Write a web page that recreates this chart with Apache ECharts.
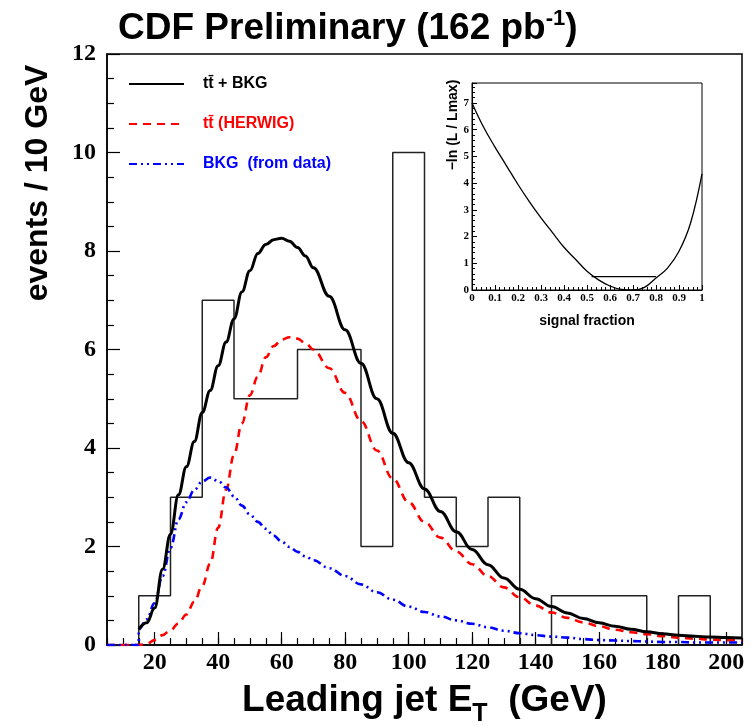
<!DOCTYPE html>
<html>
<head>
<meta charset="utf-8">
<script src="https://cdn.jsdelivr.net/npm/echarts@6/dist/echarts.min.js"></script>
<style>
html,body{margin:0;padding:0;background:#fff;}
#chart{width:750px;height:726px;}
</style>
</head>
<body>
<div id="chart"></div>
<script>
// ---- Data ----
// Histogram (data): bin left edges (GeV) and counts
const binEdges  = [5, 15, 25, 35, 45, 55, 65, 75, 85, 95, 105, 115, 125, 135, 145, 155, 165, 175, 185, 195, 205];
const binCounts = [0, 1, 3, 7, 5, 5, 6, 6, 2, 10, 3, 2, 3, 0, 1, 1, 1, 0, 1, 0, 0];

// Curves sampled in leading jet ET (GeV)
const energyGeV = [15, 17.5, 20, 22.5, 25, 27.5, 30, 32.5, 35, 37.5, 40, 42.5, 45, 47.5, 50, 52.5, 55, 57.5, 60, 62.5, 65, 67.5, 70, 75, 80, 85, 90, 95, 100, 105, 110, 115, 120, 125, 130, 135, 140, 145, 150, 155, 160, 165, 170, 175, 180, 185, 190, 195, 200, 205];
const ttbarPlusBkg = [0.32, 0.45, 0.75, 1.54, 2.25, 3.05, 3.62, 4.13, 4.72, 5.17, 5.67, 6.15, 6.62, 7.17, 7.6, 7.95, 8.13, 8.23, 8.26, 8.2, 8.07, 7.9, 7.66, 7.08, 6.4, 5.72, 5.0, 4.3, 3.7, 3.17, 2.71, 2.3, 1.94, 1.63, 1.36, 1.13, 0.94, 0.78, 0.65, 0.54, 0.45, 0.38, 0.32, 0.27, 0.23, 0.2, 0.18, 0.16, 0.15, 0.14];
const ttbarHerwig  = [0.0, 0.02, 0.1, 0.2, 0.3, 0.44, 0.62, 0.88, 1.2, 1.65, 2.38, 3.15, 3.86, 4.5, 5.07, 5.45, 5.84, 6.07, 6.2, 6.25, 6.22, 6.13, 6.0, 5.62, 5.12, 4.55, 3.95, 3.38, 2.9, 2.5, 2.18, 1.9, 1.64, 1.4, 1.17, 0.97, 0.8, 0.66, 0.55, 0.46, 0.38, 0.31, 0.26, 0.22, 0.18, 0.15, 0.13, 0.11, 0.1, 0.09];
const bkgFromData  = [0.32, 0.52, 0.85, 1.4, 1.97, 2.55, 2.9, 3.15, 3.32, 3.4, 3.33, 3.2, 3.02, 2.83, 2.65, 2.5, 2.36, 2.22, 2.1, 1.99, 1.89, 1.8, 1.72, 1.56, 1.4, 1.23, 1.07, 0.92, 0.78, 0.67, 0.58, 0.5, 0.43, 0.36, 0.29, 0.24, 0.2, 0.17, 0.15, 0.12, 0.1, 0.09, 0.08, 0.07, 0.06, 0.06, 0.05, 0.05, 0.05, 0.05];
const leadInGeV = [5, 15];   // curves sit at zero below the first data bin

// Inset: -ln(L/Lmax) vs signal fraction
const signalFraction = [0, 0.05, 0.1, 0.15, 0.2, 0.25, 0.3, 0.35, 0.4, 0.45, 0.5, 0.55, 0.6, 0.65, 0.7, 0.75, 0.8, 0.85, 0.9, 0.95, 1.0];
const negLogL = [7.0, 6.1, 5.35, 4.65, 3.95, 3.3, 2.7, 2.15, 1.6, 1.15, 0.7, 0.38, 0.15, 0.02, 0.0, 0.1, 0.45, 0.82, 1.45, 2.5, 4.35];
const errorBand = [0.52, 0.80];
const errorLevel = 0.5;

// Tick labels
const xMajorTicks = [20, 40, 60, 80, 100, 120, 140, 160, 180, 200];

// ---- Build series data ----
function pairs(xs, ys) { return xs.map((x, i) => [x, ys[i]]); }
const histData = pairs(binEdges, binCounts);
const blackData = pairs(energyGeV, ttbarPlusBkg);
const redData = leadInGeV.map(x => [x, 0]).concat(pairs(energyGeV, ttbarHerwig));
const blueData = leadInGeV.map(x => [x, 0]).concat(pairs(energyGeV, bkgFromData));
const insetData = pairs(signalFraction, negLogL);
const bandData = errorBand.map(f => [f, errorLevel]);

const SANS = 'Liberation Sans, Arial, Helvetica, sans-serif';
const SERIF = 'Liberation Serif, Times New Roman, serif';

const chart = echarts.init(document.getElementById('chart'), null, {renderer: 'canvas'});

const NAME_TOTAL = 'tt\u0304 + BKG';
const NAME_SIG = 'tt\u0304 (HERWIG)';
const NAME_BKG = 'BKG  (from data)';

chart.setOption({
  backgroundColor: '#fff',
  animation: false,
  title: {
    text: '{a|CDF Preliminary (162 pb}{s|-1}{a|)}',
    left: 113, top: 3,
    textStyle: {
      rich: {
        a: {fontFamily: SANS, fontWeight: 'bold', fontSize: 37, color: '#000', lineHeight: 42},
        s: {fontFamily: SANS, fontWeight: 'bold', fontSize: 22, color: '#000', verticalAlign: 'top', lineHeight: 42}
      }
    }
  },
  legend: {
    orient: 'vertical',
    left: 128, top: 76, padding: 0,
    itemWidth: 55, itemHeight: 14, itemGap: 24,
    selectedMode: false,
    itemStyle: {opacity: 0},
    textStyle: {fontFamily: SANS, fontWeight: 'bold', fontSize: 16, padding: [0, 0, 0, 14]},
    data: [
      {name: NAME_TOTAL, textStyle: {color: '#000'}},
      {name: NAME_SIG, textStyle: {color: '#ff0000'}},
      {name: NAME_BKG, textStyle: {color: '#0000ff'}}
    ]
  },
  grid: [
    {left: 107, right: 8, top: 54, bottom: 81, show: true, borderColor: '#000', borderWidth: 1.5, backgroundColor: 'transparent', containLabel: false, outerBoundsMode: 'none'},
    {left: 472, top: 83, width: 230, height: 207, show: true, borderColor: '#000', borderWidth: 1, backgroundColor: 'transparent', containLabel: false, outerBoundsMode: 'none'}
  ],
  xAxis: [
    {
      type: 'value', gridIndex: 0, min: 5, max: 205, position: 'bottom',
      axisLine: {show: true, lineStyle: {color: '#000', width: 1.5}},
      axisTick: {show: true, inside: true, length: 13, customValues: xMajorTicks, lineStyle: {color: '#000', width: 1.2}},
      axisLabel: {customValues: xMajorTicks, margin: 6, fontFamily: SERIF, fontWeight: 'bold', fontSize: 24, color: '#000'},
      splitLine: {show: false},
      name: '{a|Leading jet E}{s|T}{a|  (GeV)}',
      nameLocation: 'middle', nameGap: 30, nameMoveOverlap: false,
      nameTextStyle: {
        rich: {
          a: {fontFamily: SANS, fontWeight: 'bold', fontSize: 37, color: '#000', lineHeight: 52, verticalAlign: 'middle'},
          s: {fontFamily: SANS, fontWeight: 'bold', fontSize: 25, color: '#000', lineHeight: 52, verticalAlign: 'bottom'}
        }
      }
    },
    {
      type: 'value', gridIndex: 0, min: 5, max: 205, interval: 5, position: 'bottom',
      axisLine: {show: false},
      axisTick: {show: true, inside: true, length: 7, lineStyle: {color: '#000', width: 1.2}},
      axisLabel: {show: false},
      splitLine: {show: false}
    },
    {
      type: 'value', gridIndex: 1, min: 0, max: 1, interval: 0.1,
      axisLine: {show: true, lineStyle: {color: '#000', width: 1}},
      axisTick: {show: true, inside: true, length: 5, lineStyle: {color: '#000'}},
      minorTick: {show: true, splitNumber: 5, length: 3, lineStyle: {color: '#000'}},
      axisLabel: {
        margin: 3, fontFamily: SERIF, fontWeight: 'bold', fontSize: 11, color: '#000',
        formatter: v => (v === 0 ? '0' : (Math.abs(v - 1) < 1e-9 ? '1' : v.toFixed(1)))
      },
      splitLine: {show: false}, minorSplitLine: {show: false},
      name: 'signal fraction', nameLocation: 'middle', nameGap: 24, nameMoveOverlap: false,
      nameTextStyle: {fontFamily: SANS, fontWeight: 'bold', fontSize: 14, color: '#000'}
    }
  ],
  yAxis: [
    {
      type: 'value', gridIndex: 0, min: 0, max: 12, interval: 2,
      axisLine: {show: true, lineStyle: {color: '#000', width: 1.5}},
      axisTick: {show: true, inside: true, length: 13, lineStyle: {color: '#000', width: 1.2}},
      minorTick: {show: true, splitNumber: 4, length: 7, lineStyle: {color: '#000', width: 1.2}},
      axisLabel: {margin: 11, fontFamily: SERIF, fontWeight: 'bold', fontSize: 24, color: '#000'},
      splitLine: {show: false}, minorSplitLine: {show: false}
    },
    {
      type: 'value', gridIndex: 1, min: 0, max: 7.75, interval: 1,
      axisLine: {show: true, lineStyle: {color: '#000', width: 1}},
      axisTick: {show: true, inside: true, length: 5, lineStyle: {color: '#000'}},
      minorTick: {show: true, splitNumber: 5, length: 3, lineStyle: {color: '#000'}},
      axisLabel: {
        margin: 3, fontFamily: SERIF, fontWeight: 'bold', fontSize: 11, color: '#000',
        formatter: v => (v > 7.5 ? '' : String(v))
      },
      splitLine: {show: false}, minorSplitLine: {show: false}
    }
  ],
  graphic: [
    {
      type: 'text', x: 38, y: 183, rotation: Math.PI / 2,
      style: {text: 'events / 10 GeV', font: 'bold 32px ' + SANS, fill: '#000', textAlign: 'center', textVerticalAlign: 'middle'}
    },
    {
      type: 'text', x: 453, y: 125, rotation: Math.PI / 2,
      style: {text: '\u2212ln (L / Lmax)', font: 'bold 14px ' + SANS, fill: '#000', textAlign: 'center', textVerticalAlign: 'middle'}
    }
  ],
  series: [
    {
      name: 'data', type: 'line', xAxisIndex: 0, yAxisIndex: 0, step: 'end',
      data: histData, symbol: 'none', z: 2,
      lineStyle: {color: '#222', width: 1.5}
    },
    {
      name: NAME_SIG, type: 'line', xAxisIndex: 0, yAxisIndex: 0,
      data: redData, symbol: 'none', smooth: 0.4, smoothMonotone: 'x', z: 3,
      itemStyle: {color: '#ff0000'},
      lineStyle: {color: '#ff0000', width: 2.6, type: [8, 6]}
    },
    {
      name: NAME_BKG, type: 'line', xAxisIndex: 0, yAxisIndex: 0,
      data: blueData, symbol: 'none', smooth: 0.4, smoothMonotone: 'x', z: 3,
      itemStyle: {color: '#0000ff'},
      lineStyle: {color: '#0000ff', width: 2.6, type: [8, 4, 2, 4, 2, 4]}
    },
    {
      name: NAME_TOTAL, type: 'line', xAxisIndex: 0, yAxisIndex: 0,
      data: blackData, symbol: 'none', smooth: 0.4, smoothMonotone: 'x', z: 4,
      itemStyle: {color: '#000'},
      lineStyle: {color: '#000', width: 3}
    },
    {
      name: 'likelihood', type: 'line', xAxisIndex: 2, yAxisIndex: 1,
      data: insetData, symbol: 'none', smooth: 0.4, z: 4,
      lineStyle: {color: '#000', width: 1.3}
    },
    {
      name: 'interval', type: 'line', xAxisIndex: 2, yAxisIndex: 1,
      data: bandData, symbol: 'none', z: 4,
      lineStyle: {color: '#000', width: 1.3}
    }
  ]
});
</script>
</body>
</html>
